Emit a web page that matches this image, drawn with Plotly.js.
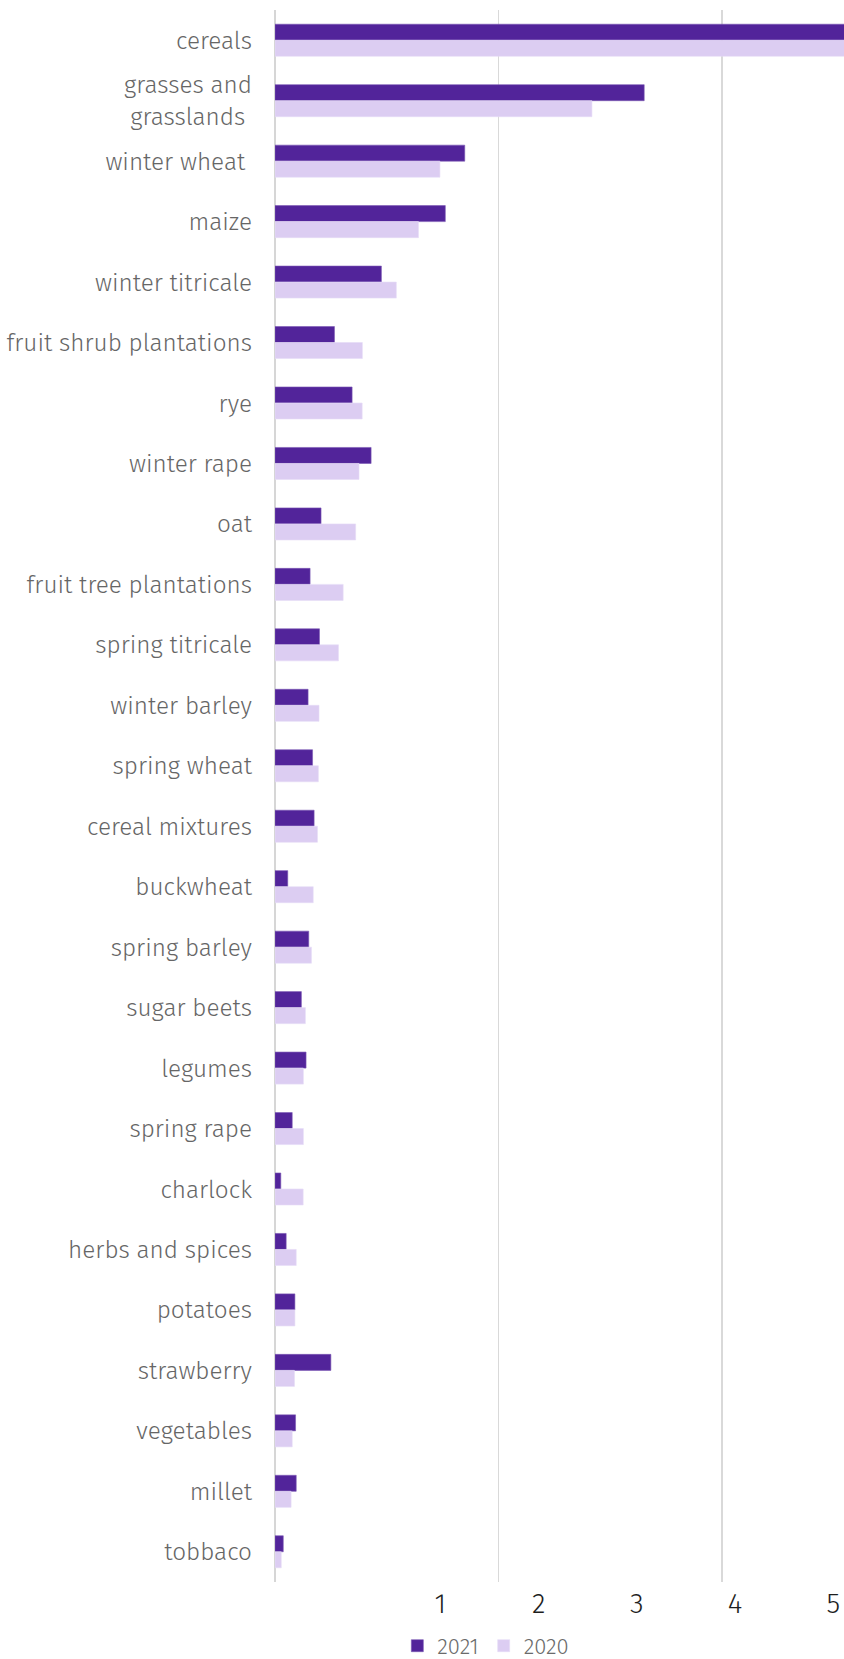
<!DOCTYPE html>
<html>
<head>
<meta charset="utf-8">
<script src="https://cdn.plot.ly/plotly-3.0.1.min.js"></script>
<style>
  html, body { margin: 0; padding: 0; background: #ffffff; }
  #chart { width: 844px; height: 1659px; }
</style>
</head>
<body>
<div id="chart"></div>
<script>
// Categories (top to bottom)
const categories = [
  "cereals", "grasses and<br>grasslands\u00a0", "winter wheat\u00a0", "maize", "winter titricale",
  "fruit shrub plantations", "rye", "winter rape", "oat", "fruit tree plantations",
  "spring titricale", "winter barley", "spring wheat", "cereal mixtures", "buckwheat",
  "spring barley", "sugar beets", "legumes", "spring rape", "charlock",
  "herbs and spices", "potatoes", "strawberry", "vegetables", "millet", "tobbaco"
];

// Series values (one gridline = 1 unit)
const values2021 = [
  3.10, 1.652, 0.849, 0.762, 0.476,
  0.266, 0.345, 0.430, 0.206, 0.157,
  0.199, 0.148, 0.168, 0.175, 0.057,
  0.151, 0.118, 0.139, 0.077, 0.026,
  0.050, 0.089, 0.250, 0.092, 0.095, 0.037
];
const values2020 = [
  2.90, 1.418, 0.738, 0.642, 0.543,
  0.391, 0.390, 0.376, 0.361, 0.305,
  0.284, 0.197, 0.194, 0.190, 0.171,
  0.163, 0.136, 0.127, 0.127, 0.126,
  0.095, 0.089, 0.087, 0.077, 0.072, 0.028
];

const seriesNames = ["2021", "2020"];

// Bottom tick labels as they appear in the picture
const bottomTickVals = [1, 2, 3, 4, 5];
const bottomTickText = ["1", "2", "3", "4", "5"];

const FONT = "'Fira Sans', 'Open Sans', 'Noto Sans', sans-serif";

const traces = [
  {
    type: "bar", orientation: "h", name: seriesNames[0],
    y: categories, x: values2021,
    marker: { color: "#52249a", line: { color: "#7a58b4", width: 0.6 } },
    hoverinfo: "none"
  },
  {
    type: "bar", orientation: "h", name: seriesNames[1],
    y: categories, x: values2020,
    marker: { color: "#dccdf2", line: { color: "#e6dcf7", width: 0.6 } },
    hoverinfo: "none"
  },
  {
    type: "scatter", mode: "markers", xaxis: "x2", yaxis: "y",
    x: [], y: [], showlegend: false, hoverinfo: "none"
  }
];

const layout = {
  width: 844, height: 1659,
  margin: { l: 274.5, r: 0, t: 10, b: 77, pad: 0 },
  paper_bgcolor: "#ffffff", plot_bgcolor: "#ffffff",
  font: { family: FONT, color: "#666666", weight: 300 },
  barmode: "group",
  bargap: 0.47, bargroupgap: 0,
  showlegend: true,
  legend: {
    orientation: "h",
    xref: "paper", x: 0.215, xanchor: "left",
    yref: "container", y: 0.0079, yanchor: "middle",
    font: { size: 22, color: "#6b6b6b", family: FONT, weight: 300 },
    itemwidth: 30, tracegroupgap: 0,
    bgcolor: "rgba(0,0,0,0)"
  },
  xaxis: {
    range: [0, 2.546],
    showticklabels: false,
    ticks: "",
    showgrid: true, gridcolor: "#d9d9d9", gridwidth: 1.6,
    dtick: 1, tick0: 0,
    zeroline: true, zerolinecolor: "#d6d6d6", zerolinewidth: 2.2,
    showline: false, fixedrange: true
  },
  xaxis2: {
    overlaying: "x", anchor: "y", side: "bottom",
    range: [-0.684, 5.11],
    tickmode: "array", tickvals: bottomTickVals, ticktext: bottomTickText,
    showgrid: false, zeroline: false, showline: false, ticks: "",
    tickfont: { size: 28, color: "#1e1e1e", family: FONT, weight: 300 },
    ticklabelstandoff: 2,
    fixedrange: true
  },
  yaxis: {
    type: "category",
    autorange: "reversed",
    showgrid: false, zeroline: false, showline: false,
    ticks: "",
    ticklabelstandoff: 22,
    tickfont: { size: 24.3, color: "#666666", family: FONT, weight: 300 },
    fixedrange: true
  }
};

Plotly.newPlot("chart", traces, layout, { displayModeBar: false, staticPlot: true });
</script>
</body>
</html>
